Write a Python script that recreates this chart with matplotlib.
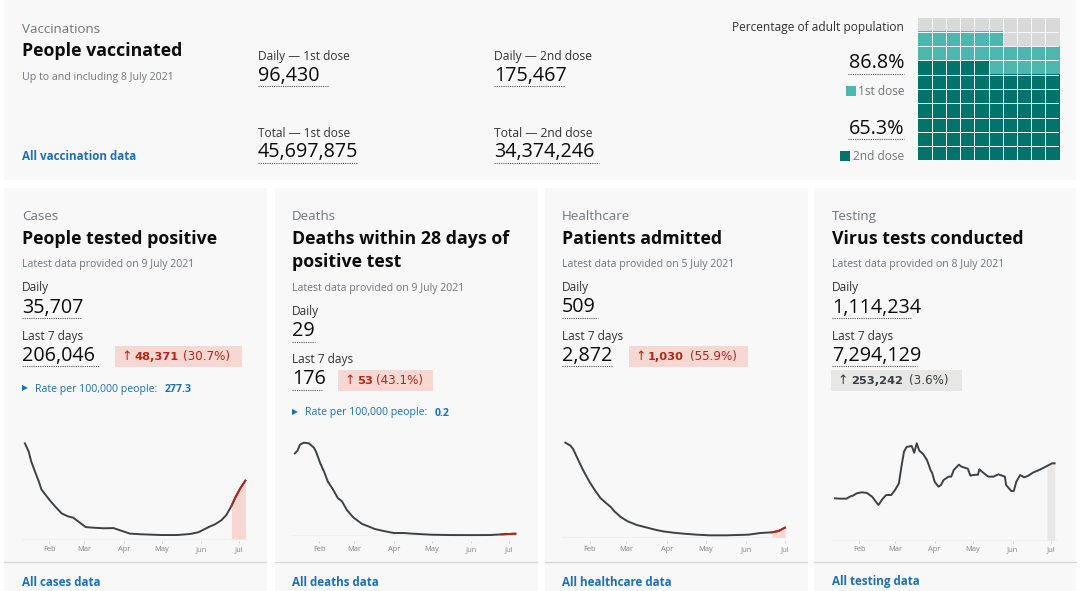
import matplotlib
matplotlib.use("Agg")
import matplotlib.pyplot as plt
from matplotlib.patches import Rectangle
from matplotlib.colors import ListedColormap
import numpy as np

plt.rcParams['font.family'] = ['Open Sans', 'DejaVu Sans']

# ---- data -------------------------------------------------------------
month_labels = ['Feb', 'Mar', 'Apr', 'May', 'Jun', 'Jul']
month_days = [0, 28, 59, 89, 120, 150]

cases_days = [-19,-16,-14,-11,-8,-6,-3,1,5,10,15,19,24,29,35,43,51,56,64,72,80,89,101,111,118,126,131,136,140,144,147,151,155]
cases_vals = [48.2,44.0,39.0,33.9,28.9,25.0,22.5,19.2,16.3,12.9,11.4,10.8,8.4,6.0,5.7,5.4,5.5,4.4,2.7,2.4,2.2,2.0,2.0,2.5,3.4,6.0,7.4,9.4,12.1,16.6,20.8,25.5,29.4]

deaths_days = [-19,-17,-15,-12,-8,-4,-2,1,4,7,11,15,18,22,27,34,39,44,51,59,67,74,88,103,119,135,144,155]
deaths_vals = [1097,1133,1213,1240,1231,1173,1106,963,852,718,615,495,459,339,241,152,120,85,58,31,31,22,9,4,3,4,13,22]

health_days = [-19,-15,-13,-10,-7,-4,0,4,8,12,16,19,24,29,36,44,50,56,64,72,82,92,105,122,131,140,145,150]
health_vals = [4004,3878,3737,3384,3032,2707,2312,1974,1664,1466,1283,1086,846,677,522,409,324,254,197,155,113,85,85,113,183,212,268,409]

tests_days = [-19,-15,-10,-7,-5,-2,2,6,10,13,15,18,21,25,28,31,33,35,37,41,43,45,47,50,53,56,57,59,62,64,66,70,72,74,78,80,85,87,89,93,94,97,101,105,109,114,115,119,121,123,126,129,132,136,142,147,151,153]
tests_vals = [568,564,564,595,604,636,650,641,591,523,478,555,613,613,681,771,997,1200,1263,1277,1186,1313,1213,1168,1087,943,916,794,726,749,816,862,862,952,1024,997,970,875,884,889,961,916,862,862,893,862,749,668,668,794,884,853,871,916,961,1006,1042,1042]

first_dose_pct = 86.8
second_dose_pct = 65.3

# ---- style ------------------------------------------------------------
W, H = 1080, 591
PANEL = '#f8f8f8'
INK = '#0b0c0c'
GREY = '#6f777b'
BLUE = '#1d70b8'
LINE = '#3d4143'
RED = '#b3261a'
RED_FILL = '#f6d7d2'
GREY_FILL = '#e8e7e5'
TEAL = '#4db6ae'
DARK = '#00746a'
EMPTY = '#d9d9d9'

fig = plt.figure(figsize=(W / 100, H / 100), dpi=100, facecolor='white')
bg = fig.add_axes([0, 0, 1, 1])
bg.set_xlim(0, W)
bg.set_ylim(H, 0)
bg.axis('off')


def T(x, y, s, size, color=INK, weight='normal', ha='left', family=None):
    kw = {'family': family} if family else {}
    bg.text(x, y + 1.5, s, fontsize=size, color=color, fontweight=weight, ha=ha, va='center', **kw)


def under(x0, x1, y):
    bg.plot([x0, x1], [y, y], color='#555555', lw=0.8, ls=(0, (1, 1)))


def number(x, y, s, width):
    T(x, y, s, 14.2)
    under(x, x + width, y + 12)


# top panel
bg.add_patch(Rectangle((4, 0), 1072, 180, fc=PANEL, ec='none'))
T(22, 28, 'Vaccinations', 9.6, GREY)
T(22, 49, 'People vaccinated', 12.8, INK, 'bold')
T(22, 76, 'Up to and including 8 July 2021', 7.55, GREY)
T(22, 155, 'All vaccination data', 8.4, BLUE, 'bold')
T(258, 55, 'Daily — 1st dose', 8.6, '#333333')
number(258, 74, '96,430', 70)
T(494, 55, 'Daily — 2nd dose', 8.7, '#333333')
number(494, 74, '175,467', 70)
T(258, 132, 'Total — 1st dose', 8.6, '#333333')
number(258, 151, '45,697,875', 100)
T(494, 132, 'Total — 2nd dose', 8.7, '#333333')
number(494, 151, '34,374,246', 105)
T(904, 26, 'Percentage of adult population', 8.65, '#333333', ha='right')
T(904, 62, f'{first_dose_pct}%', 14.2, ha='right')
under(848, 904, 74)
bg.add_patch(Rectangle((846, 86), 10, 10, fc=TEAL, ec='none'))
T(904, 90, '1st dose', 8.6, GREY, ha='right')
T(904, 127, f'{second_dose_pct}%', 14.2, ha='right')
under(848, 904, 139)
bg.add_patch(Rectangle((840, 151), 9.5, 9.5, fc=DARK, ec='none'))
T(904, 155, '2nd dose', 8.6, GREY, ha='right')

# waffle
order = np.arange(100).reshape(10, 10)
cells = np.where(order < int(second_dose_pct), 2, np.where(order < int(first_dose_pct), 1, 0))
wax = fig.add_axes([917.7 / W, 1 - 160.3 / H, 141.6 / W, 142.6 / H])
wax.imshow(cells, cmap=ListedColormap([EMPTY, TEAL, DARK]), vmin=0, vmax=2, origin='lower',
           extent=(0, 10, 0, 10), aspect='auto', interpolation='nearest')
for k in range(1, 10):
    wax.axvline(k, color=PANEL, lw=0.7)
    wax.axhline(k, color=PANEL, lw=0.7)
wax.axis('off')

# card definitions
cards = [
    dict(x=4, tx=22, cat='Cases', title=['People tested positive'], date='Latest data provided on 9 July 2021',
         daily='35,707', dw=60, week='206,046', ww=77,
         badge=(115, 346, 127, 21), bt=('48,371', '(30.7%)'), bx=(121, 134, 183), color=RED, fill=RED_FILL,
         rate='277.3', link='All cases data',
         days=cases_days, vals=cases_vals, feb=49.0, ppd=3.8 / 3, base=327, unit=0.168, hl=144),
    dict(x=275, tx=292, cat='Deaths', title=['Deaths within 28 days of', 'positive test'], date='Latest data provided on 9 July 2021',
         daily='29', dw=23, week='176', ww=30,
         badge=(338, 370, 95, 21), bt=('53', '(43.1%)'), bx=(344, 357, 376), color=RED, fill=RED_FILL,
         rate='0.2', link='All deaths data',
         days=deaths_days, vals=deaths_vals, feb=319.0, ppd=3.8 / 3, base=316, unit=4.46, hl=144),
    dict(x=545, tx=562, cat='Healthcare', title=['Patients admitted'], date='Latest data provided on 5 July 2021',
         daily='509', dw=36, week='2,872', ww=50,
         badge=(629, 346, 119, 21), bt=('1,030', '(55.9%)'), bx=(635, 648, 690), color=RED, fill=RED_FILL,
         rate=None, link='All healthcare data',
         days=health_days, vals=health_vals, feb=590.0, ppd=3.9 / 3, base=322, unit=14.1, hl=140),
    dict(x=814, tx=832, cat='Testing', title=['Virus tests conducted'], date='Latest data provided on 8 July 2021',
         daily='1,114,234', dw=80, week='7,294,129', ww=85,
         badge=(831, 370, 131, 21), bt=('253,242', '(3.6%)'), bx=(837, 851, 909), color='#383f43', fill=GREY_FILL,
         rate=None, link='All testing data',
         days=tests_days, vals=tests_vals, feb=859.3, ppd=3.83 / 3, base=331, unit=4.511, hl=143),
]

for c in cards:
    x0 = c['x']
    tx = c['tx']
    bg.add_patch(Rectangle((x0, 188), 263 if x0 != 814 else 262, 403, fc=PANEL, ec='none'))
    T(tx, 215, c['cat'], 9.6, GREY)
    dy = 0
    for i, line in enumerate(c['title']):
        T(tx, 237 + 23.5 * i, line, 12.8, INK, 'bold')
        dy = 23.5 * i
    T(tx, 263 + dy, c['date'], 7.55, GREY)
    T(tx, 286 + dy, 'Daily', 8.6, '#333333')
    number(tx, 306 + dy, c['daily'], c['dw'])
    T(tx, 335 + dy, 'Last 7 days', 8.6, '#333333')
    number(tx, 354 + dy, c['week'], c['ww'])

    bx, by, bw, bh = c['badge']
    bg.add_patch(Rectangle((bx, by), bw, bh, fc=c['fill'], ec='none'))
    cy = by + bh / 2 - 1.5
    T(c['bx'][0], cy, '↑', 9, c['color'])
    T(c['bx'][1], cy, c['bt'][0], 8.2, c['color'], 'bold', family='DejaVu Sans')
    T(c['bx'][2], cy, c['bt'][1], 8.6, c['color'], family='DejaVu Sans')
    if c['rate']:
        T(tx, 387.5 + dy, '▶', 5.5, BLUE)
        T(tx + 13, 388 + dy, 'Rate per 100,000 people:', 7.6, BLUE)
        T(tx + 143, 388 + dy, c['rate'], 7.6, BLUE, 'bold')

    bg.plot([x0, x0 + 262], [562, 562], color='#d8d8d8', lw=1)
    T(tx, 580.5, c['link'], 8.4, BLUE, 'bold')

    # sparkline axes spanning the plotted px box
    left, right = tx, tx + 226
    top, bottom = 440, 541
    base_px = 430 + c['base'] / 3
    ax = fig.add_axes([left / W, 1 - bottom / H, (right - left) / W, (bottom - top) / H])
    ax.patch.set_alpha(0)
    ax.set_xlim((left - c['feb']) / c['ppd'], (right - c['feb']) / c['ppd'])
    scale = c['unit'] * 3  # value per px
    ax.set_ylim(-(bottom - base_px) * scale, (base_px - top) * scale)
    for s in ax.spines.values():
        s.set_visible(False)
    ax.set_yticks([])
    ax.set_xticks(month_days, month_labels)
    ax.tick_params(axis='x', length=1.5, width=0.6, color='#c8c8c8', labelsize=5.4, labelcolor='#7f8589', pad=2.0)
    ax.axhline(0, color='#f0f0f0', lw=0.8, zorder=0)

    days = np.array(c['days'])
    vals = np.array(c['vals'])
    m = days >= c['hl']
    ax.fill_between(days[m], 0, vals[m], color=c['fill'], lw=0, zorder=1)
    ax.plot(days, vals, color=LINE, lw=1.4, zorder=2, solid_joinstyle='round')
    if c['color'] == RED:
        ax.plot(days[m], vals[m], color=RED, lw=1.4, zorder=3)

fig.savefig('out.png', dpi=100, facecolor='white')
